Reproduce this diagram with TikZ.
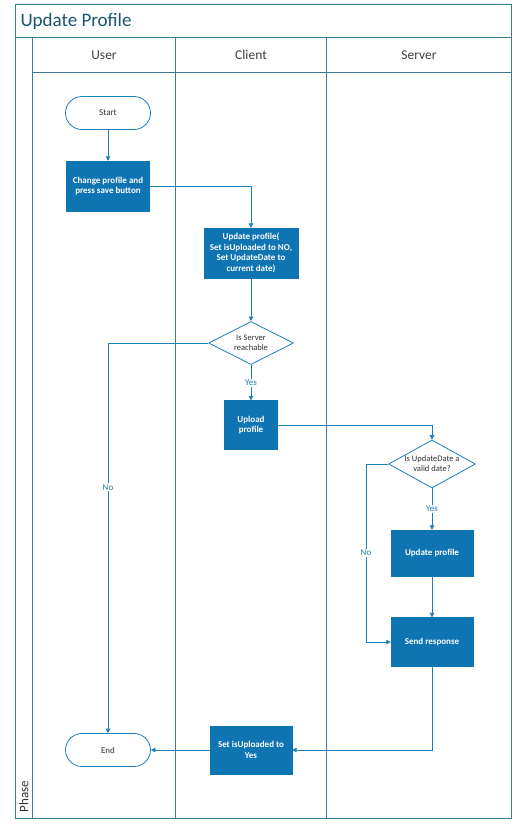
\documentclass[tikz,border=0pt]{standalone}
\usepackage{fontspec}
\setmainfont{Carlito}
\usetikzlibrary{shapes.geometric,arrows.meta}
\definecolor{boxblue}{RGB}{14,117,178}
\definecolor{linkblue}{RGB}{28,128,185}
\definecolor{framec}{RGB}{55,125,150}
\definecolor{titlec}{RGB}{25,85,110}
\begin{document}
\begin{tikzpicture}[x=1pt,y=-1pt,
  frameline/.style={draw=framec,line width=0.9pt},
  proc/.style={rectangle,fill=boxblue,draw=boxblue,text=white,align=center,inner sep=1pt,font=\fontsize{9}{10.5}\selectfont\bfseries},
  term/.style={rectangle,rounded corners=16.5pt,draw=linkblue,line width=0.8pt,fill=white,minimum width=85pt,minimum height=33pt,font=\fontsize{9}{10.5}\selectfont,text=black!80},
  decide/.style={diamond,draw=linkblue,line width=0.8pt,fill=white,aspect=2,inner sep=0pt,align=center,font=\fontsize{8.5}{10}\selectfont,text=black!80},
  conn/.style={draw=linkblue,line width=0.8pt,-{Triangle[length=4.5pt,width=4.5pt]}},
  lbl/.style={fill=white,inner sep=1pt,text=linkblue,font=\fontsize{9}{10.5}\selectfont},
  lane/.style={font=\fontsize{13.5}{15}\selectfont,text=black!75}
]
\useasboundingbox (0,0) rectangle (524,824);
% frame
\draw[frameline] (15,4) rectangle (511,818);
\draw[frameline] (15,37) -- (511,37);
\draw[frameline] (32,72) -- (511,72);
\draw[frameline] (32,37) -- (32,818);
\draw[frameline] (175,37) -- (175,818);
\draw[frameline] (326,37) -- (326,818);
\node[anchor=west,font=\fontsize{19}{21}\selectfont,text=titlec] (title) at (17,21) {Update Profile};
\node[lane] (huser) at (104,55) {User};
\node[lane] (hclient) at (251,55) {Client};
\node[lane] (hserver) at (419,55) {Server};
\node[rotate=90,anchor=west,font=\fontsize{13}{15}\selectfont,text=black!80] (phase) at (24,816) {Phase};
% nodes
\node[term] (start) at (108,113) {Start};
\node[proc,minimum width=83pt,minimum height=50pt] (change) at (108,186) {Change profile and\\press save button};
\node[proc,minimum width=94pt,minimum height=50pt] (upd) at (251,253) {Update profile(\\Set isUploaded to NO,\\Set UpdateDate to\\current date)};
\node[decide,minimum width=85pt,minimum height=43pt] (d1) at (251,343) {Is Server\\reachable};
\node[proc,minimum width=53pt,minimum height=49pt] (upload) at (251,425) {Upload\\profile};
\node[decide,minimum width=86pt,minimum height=48pt] (d2) at (432,464) {Is UpdateDate a\\valid date?};
\node[proc,minimum width=82pt,minimum height=46pt] (upd2) at (432,553) {Update profile};
\node[proc,minimum width=82pt,minimum height=49pt] (send) at (432,642) {Send response};
\node[proc,minimum width=82pt,minimum height=48pt] (setup) at (251,750) {Set isUploaded to\\Yes};
\node[term] (end) at (108,750) {End};
\coordinate (nbend) at (366,464);
% connectors
\draw[conn] (start) -- (change);
\draw[conn] (change.east) -| (upd.north);
\draw[conn] (upd) -- (d1);
\draw[conn] (d1) -- node[lbl]{Yes} (upload);
\draw[conn] (d1.west) -| node[lbl,pos=0.685]{No} (end.north);
\draw[conn] (upload.east) -| (d2.north);
\draw[conn] (d2) -- node[lbl]{Yes} (upd2);
\draw[conn] (d2.west) -- (nbend) |- node[lbl,pos=0.25]{No} (send.west);
\draw[conn] (upd2) -- (send);
\draw[conn] (send.south) |- (setup.east);
\draw[conn] (setup) -- (end);
\end{tikzpicture}
\end{document}
